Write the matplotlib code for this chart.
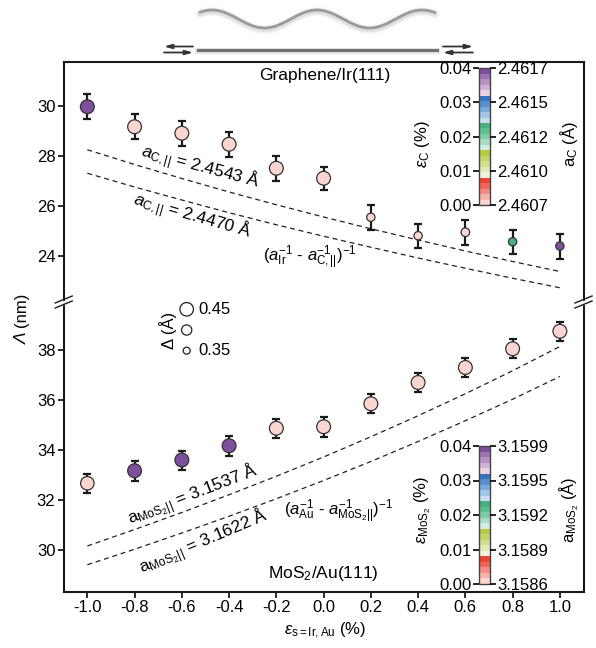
import numpy as np
import matplotlib
matplotlib.use('Agg')
import matplotlib.pyplot as plt
from matplotlib.colors import ListedColormap, BoundaryNorm
import matplotlib.cm as cm

plt.rcParams['font.family'] = ['Liberation Sans', 'DejaVu Sans']
plt.rcParams['mathtext.fontset'] = 'custom'
plt.rcParams['mathtext.rm'] = 'Liberation Sans'
plt.rcParams['mathtext.it'] = 'Liberation Sans:italic'
plt.rcParams['mathtext.bf'] = 'Liberation Sans:bold'
plt.rcParams['axes.unicode_minus'] = False

#%% data
strain = [-1.0, -0.8, -0.6, -0.4, -0.2, 0.0, 0.2, 0.4, 0.6, 0.8, 1.0]

# graphene / Ir(111)
lam_gr = [29.97, 29.17, 28.91, 28.47, 27.51, 27.11, 25.55, 24.81, 24.95, 24.57, 24.40]
err_gr = [0.50, 0.50, 0.50, 0.50, 0.50, 0.47, 0.50, 0.49, 0.49, 0.49, 0.50]
delta_gr = [0.455, 0.455, 0.455, 0.455, 0.455, 0.455, 0.37, 0.37, 0.375, 0.37, 0.37]
epsC_gr = [0.039, 0.0, 0.0, 0.0, 0.0, 0.0, 0.0, 0.0, 0.0, 0.0235, 0.039]
line_gr_hi = [28.25, 27.66, 27.10, 26.56, 26.05, 25.56, 25.09, 24.64, 24.20, 23.78, 23.38]
line_gr_lo = [27.31, 26.76, 26.24, 25.73, 25.25, 24.79, 24.35, 23.92, 23.51, 23.11, 22.73]

# MoS2 / Au(111)
lam_mos = [32.67, 33.17, 33.60, 34.17, 34.87, 34.93, 35.85, 36.70, 37.30, 38.05, 38.75]
err_mos = [0.39, 0.40, 0.38, 0.40, 0.38, 0.39, 0.38, 0.38, 0.38, 0.38, 0.38]
delta_mos = [0.45, 0.455, 0.455, 0.455, 0.455, 0.455, 0.455, 0.455, 0.455, 0.455, 0.455]
eps_mos = [0.0, 0.039, 0.039, 0.039, 0.0, 0.0, 0.0, 0.0, 0.0, 0.0, 0.0]
line_mos_hi = [30.16, 30.82, 31.50, 32.21, 32.95, 33.72, 34.53, 35.37, 36.25, 37.17, 38.14]
line_mos_lo = [29.41, 30.03, 30.68, 31.35, 32.05, 32.78, 33.54, 34.34, 35.17, 36.03, 36.94]

# colour bars
cb_ticks = [0.00, 0.01, 0.02, 0.03, 0.04]
aC_labels = ['2.4607', '2.4610', '2.4612', '2.4615', '2.4617']
aMoS_labels = ['3.1586', '3.1589', '3.1592', '3.1595', '3.1599']
delta_legend = [0.45, 0.40, 0.35]

#%% colour map (5 bands x 5 shades)
cols = ['#fbd5d0', '#f7b3aa', '#f38c82', '#ef655a', '#eb4336',
        '#f1f4dc', '#e2e9b6', '#d3de91', '#c4d46c', '#b6ca47',
        '#d3ede2', '#a9dcc5', '#80cba8', '#5ebe8f', '#47b07b',
        '#cadef2', '#a2c5e8', '#7aaadc', '#5690cf', '#3673bd',
        '#ecd0e6', '#d3b0d6', '#b990c5', '#9e72b3', '#7f4f9f']
cmap = ListedColormap(cols)
bounds = np.linspace(0, 0.04, 26)
norm = BoundaryNorm(bounds, cmap.N)

def msize(d):
    px = 7 + (np.array(d) - 0.35) * 65
    return (px * 0.72) ** 2

fig = plt.figure(figsize=(5.96, 6.48), dpi=100)
W, H = 596.0, 648.0
L, R = 63.7, 583.5
ax1 = fig.add_axes([L / W, 1 - 300 / H, (R - L) / W, (300 - 61.7) / H])
ax2 = fig.add_axes([L / W, 1 - 591.7 / H, (R - L) / W, (591.7 - 304) / H])

dash = (0, (4, 3))
for ax, lam, err, dl, ep, hi, lo in [(ax1, lam_gr, err_gr, delta_gr, epsC_gr, line_gr_hi, line_gr_lo),
                                     (ax2, lam_mos, err_mos, delta_mos, eps_mos, line_mos_hi, line_mos_lo)]:
    ax.plot(strain, hi, color='#222222', lw=0.9, ls=dash, zorder=1)
    ax.plot(strain, lo, color='#222222', lw=0.9, ls=dash, zorder=1)
    ax.errorbar(strain, lam, yerr=err, fmt='none', ecolor='#1a1a1a',
                elinewidth=1.6, capsize=3, capthick=1.6, zorder=2)
    ax.scatter(strain, lam, s=msize(dl), c=ep, cmap=cmap, norm=norm,
               edgecolors='#333333', linewidths=0.9, zorder=3)
    ax.set_xlim(-1.1, 1.1)
    for sp in ax.spines.values():
        sp.set_linewidth(1.5)
        sp.set_color('#1a1a1a')
    ax.tick_params(axis='both', labelsize=12, length=4, width=1.3, color='#1a1a1a', pad=2)

ax1.set_ylim(22.24, 31.772)
ax1.set_yticks([24, 26, 28, 30])
ax1.spines['bottom'].set_visible(False)
ax1.set_xticks([])
ax2.set_ylim(28.332, 39.84)
ax2.set_yticks([30, 32, 34, 36, 38])
ax2.spines['top'].set_visible(False)
ax2.set_xticks(strain)
ax2.set_xticklabels(['%.1f' % v for v in strain])

# texts in the panels
ax1.text(0.3757, 0.94, 'Graphene/Ir(111)', transform=ax1.transAxes, fontsize=12.5, va='center')
ax1.text(0.262, 0.556, r'$a_{\mathrm{C,||}}$ = 2.4543 Å', transform=ax1.transAxes, fontsize=12.5,
         rotation=-15, ha='center', va='center')
ax1.text(0.247, 0.35, r'$a_{\mathrm{C,||}}$ = 2.4470 Å', transform=ax1.transAxes, fontsize=12.5,
         rotation=-16, ha='center', va='center')
ax1.text(0.384, 0.178, r'($a_{\mathrm{Ir}}^{-1}$ - $a_{\mathrm{C,||}}^{-1}$)$^{-1}$', transform=ax1.transAxes,
         fontsize=12, va='center')

ax2.text(0.3936, 0.064, r'MoS$_2$/Au(111)', transform=ax2.transAxes, fontsize=12.5, va='center')
ax2.text(0.249, 0.336, r'a$_{\mathrm{MoS_2||}}$ = 3.1537 Å', transform=ax2.transAxes, fontsize=12.5,
         rotation=21, ha='center', va='center')
ax2.text(0.27, 0.173, r'a$_{\mathrm{MoS_2||}}$ = 3.1622 Å', transform=ax2.transAxes, fontsize=12.5,
         rotation=23, ha='center', va='center')
ax2.text(0.424, 0.277, r'($a_{\mathrm{Au}}^{-1}$ - $a_{\mathrm{MoS_2||}}^{-1}$)$^{-1}$', transform=ax2.transAxes,
         fontsize=12, va='center')

# delta size legend
leg_y = [0.9816, 0.9096, 0.8377]
ax2.scatter([0.2366] * 3, leg_y, s=msize(delta_legend), facecolors='white', edgecolors='#222222',
            linewidths=0.9, transform=ax2.transAxes, clip_on=False, zorder=4)
ax2.text(0.2587, leg_y[0], '%.2f' % delta_legend[0], transform=ax2.transAxes, fontsize=12, va='center')
ax2.text(0.2587, leg_y[2], '%.2f' % delta_legend[2], transform=ax2.transAxes, fontsize=12, va='center')
ax2.text(0.201, leg_y[1], 'Δ (Å)', transform=ax2.transAxes, fontsize=12, va='center', ha='center', rotation=90)

# axis labels
fig.text(325 / W, 1 - 631 / H, r'$\varepsilon_{\mathrm{s=Ir,Au}}$ (%)', fontsize=12, ha='center', va='center')
fig.text(22 / W, 1 - 344 / H, 'Λ', fontsize=12.5, style='italic', ha='center', va='bottom', rotation=90)
fig.text(22 / W, 1 - 327 / H, '(nm)', fontsize=12, ha='center', va='bottom', rotation=90)

# colour bars
sm = cm.ScalarMappable(norm=norm, cmap=cmap)
for (y0, y1, right_labels, lab_l, lab_r, ly) in [
        (68.3, 205.0, aC_labels, r'$\varepsilon_{\mathrm{C}}$ (%)', r'a$_{\mathrm{C}}$ (Å)', 144),
        (446.0, 584.0, aMoS_labels, r'$\varepsilon_{\mathrm{MoS_2}}$ (%)', r'a$_{\mathrm{MoS_2}}$ (Å)', 510)]:
    cax = fig.add_axes([479 / W, 1 - y1 / H, 11 / W, (y1 - y0) / H])
    cb = fig.colorbar(sm, cax=cax, ticks=cb_ticks)
    cb.minorticks_off()
    cb.outline.set_linewidth(1.0)
    cb.outline.set_edgecolor('#444444')
    cax.yaxis.set_ticks_position('left')
    cax.set_yticklabels(['%.2f' % t for t in cb_ticks])
    cax.tick_params(labelsize=12, length=4, width=1.2, pad=1)
    rax = cax.twinx()
    rax.set_ylim(0, 0.04)
    rax.set_yticks(cb_ticks)
    rax.set_yticklabels(right_labels)
    rax.minorticks_off()
    rax.tick_params(labelsize=12, length=4, width=1.2, pad=1)
    for sp in rax.spines.values():
        sp.set_visible(False)
    fig.text(423 / W, 1 - ly / H, lab_l, fontsize=12, rotation=90, ha='center', va='center')
    fig.text(569 / W, 1 - ly / H, lab_r, fontsize=12, rotation=90, ha='center', va='center')

# overlay: sketch at top and axis break marks
ov = fig.add_axes([0, 0, 1, 1], zorder=10)
ov.set_xlim(0, W)
ov.set_ylim(H, 0)
ov.axis('off')
ov.patch.set_alpha(0)
xw = np.linspace(200, 435, 300)
yw = 19 - 9 * np.cos(2 * np.pi * (xw - 317) / 105)
for lw, a in [(7, 0.05), (5, 0.08), (3.5, 0.15)]:
    ov.plot(xw, yw + 1.5, color='#888888', lw=lw, alpha=a, solid_capstyle='round')
ov.plot(xw, yw, color='#9a9a9a', lw=2.0, solid_capstyle='round')
ov.plot([198, 437], [50.5, 50.5], color='#cccccc', lw=4.5, alpha=0.5)
ov.plot([198, 437], [50, 50], color='#707070', lw=2.2)
arr = dict(arrowstyle='-|>,head_length=0.45,head_width=0.13', color='#333333', lw=1.3, shrinkA=0, shrinkB=0)
ov.annotate('', xy=(164, 46.5), xytext=(193, 46.5), arrowprops=arr)
ov.annotate('', xy=(193, 52.5), xytext=(164, 52.5), arrowprops=arr)
ov.annotate('', xy=(473, 46.5), xytext=(443, 46.5), arrowprops=arr)
ov.annotate('', xy=(443, 52.5), xytext=(473, 52.5), arrowprops=arr)
for xs in [L, R]:
    ov.fill_between([xs - 3, xs + 3], [300.5, 300.5], [303.5, 303.5], color='white', zorder=5)
    for yc in [299.5, 304.5]:
        ov.plot([xs - 8.5, xs + 8.5], [yc + 3.5, yc - 3.5], color='#1a1a1a', lw=1.0, zorder=6)

fig.savefig('out.png', dpi=100)
